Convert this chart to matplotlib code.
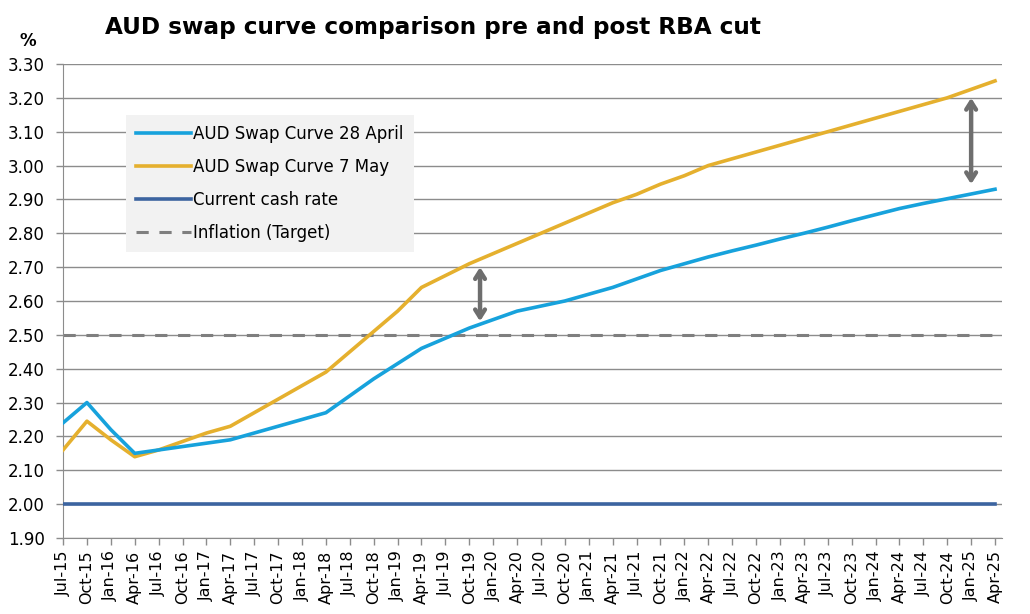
import matplotlib
matplotlib.use("Agg")
import matplotlib.pyplot as plt

# quarterly dates, Jul-15 .. Apr-25
quarters = []
for yr in range(15, 26):
    for m in ["Jan", "Apr", "Jul", "Oct"]:
        quarters.append(f"{m}-{yr}")
quarters = quarters[quarters.index("Jul-15"):quarters.index("Apr-25") + 1]

swap_28_april = [2.24, 2.30, 2.22, 2.15, 2.16, 2.17, 2.18, 2.19, 2.21, 2.23,
                 2.25, 2.27, 2.32, 2.37, 2.415, 2.46, 2.49, 2.52, 2.545, 2.57,
                 2.585, 2.60, 2.62, 2.64, 2.665, 2.69, 2.71, 2.73, 2.748, 2.765,
                 2.783, 2.80, 2.818, 2.837, 2.855, 2.873, 2.888, 2.902, 2.916, 2.93]
swap_7_may = [2.16, 2.245, 2.19, 2.14, 2.16, 2.185, 2.21, 2.23, 2.27, 2.31,
              2.35, 2.39, 2.45, 2.51, 2.57, 2.64, 2.675, 2.71, 2.74, 2.77,
              2.80, 2.83, 2.86, 2.89, 2.915, 2.945, 2.97, 3.00, 3.02, 3.04,
              3.06, 3.08, 3.10, 3.12, 3.14, 3.16, 3.18, 3.20, 3.225, 3.25]
cash_rate = [2.00] * len(quarters)
inflation_target = [2.50] * len(quarters)

# double-headed arrows showing the shift (x = category index)
arrow_x = [17.45, 38.0]
arrow_top = [2.70, 3.20]
arrow_bottom = [2.54, 2.945]

yticks = [1.90 + 0.1 * i for i in range(15)]

fig = plt.figure(figsize=(10.3, 6.14), dpi=100)
ax = fig.add_axes([0.0612, 0.1238, 0.9118, 0.772])

x = list(range(len(quarters)))
grid_c = "#8C8C8C"

ax.plot(x, inflation_target, color="#7F7F7F", lw=2.2, dashes=(4, 3.5),
        label="Inflation (Target)", zorder=2)
ax.plot(x, cash_rate, color="#3C64A0", lw=2.6, label="Current cash rate", zorder=3)
ax.plot(x, swap_7_may, color="#E5B02E", lw=2.6, label="AUD Swap Curve 7 May", zorder=4)
ax.plot(x, swap_28_april, color="#17A2DC", lw=2.6, label="AUD Swap Curve 28 April", zorder=5)

for ax_x, top, bot in zip(arrow_x, arrow_top, arrow_bottom):
    ax.annotate("", xy=(ax_x, top), xytext=(ax_x, bot),
                arrowprops=dict(arrowstyle="<->,head_length=0.55,head_width=0.35",
                                color="#6E6E6E", lw=3.2, shrinkA=0, shrinkB=0,
                                capstyle="round", joinstyle="round"),
                zorder=6)

ax.set_xlim(0, 39.3)
ax.set_ylim(1.90, 3.30)
ax.set_yticks(yticks)
ax.set_yticklabels([f"{v:.2f}" for v in yticks], fontsize=12)
ax.set_xticks(x)
ax.set_xticklabels(quarters, rotation=90, fontsize=11.5)
ax.yaxis.grid(True, color=grid_c, lw=1)
ax.set_axisbelow(True)
for s in ["top", "right"]:
    ax.spines[s].set_visible(False)
for s in ["left", "bottom"]:
    ax.spines[s].set_color(grid_c)
ax.tick_params(axis="both", color=grid_c, length=5, width=1)
ax.tick_params(axis="y", pad=8)
ax.tick_params(axis="x", pad=4)

handles, labels = ax.get_legend_handles_labels()
order = [3, 2, 1, 0]
leg = ax.legend([handles[i] for i in order], [labels[i] for i in order],
                loc="upper left", bbox_to_anchor=(0.067, 0.893), fontsize=12,
                handlelength=3.3, handletextpad=0.15, labelspacing=0.9,
                borderpad=0.6, borderaxespad=0, fancybox=False, frameon=True)
leg.get_frame().set_facecolor("#F2F2F2")
leg.get_frame().set_edgecolor("none")
leg.get_frame().set_alpha(1)

fig.text(0.102, 0.955, "AUD swap curve comparison pre and post RBA cut",
         fontsize=16.7, fontweight="bold", va="center", ha="left")
fig.text(0.027, 0.934, "%", fontsize=12, fontweight="bold", va="center", ha="center")

fig.savefig("out.png", dpi=100)
